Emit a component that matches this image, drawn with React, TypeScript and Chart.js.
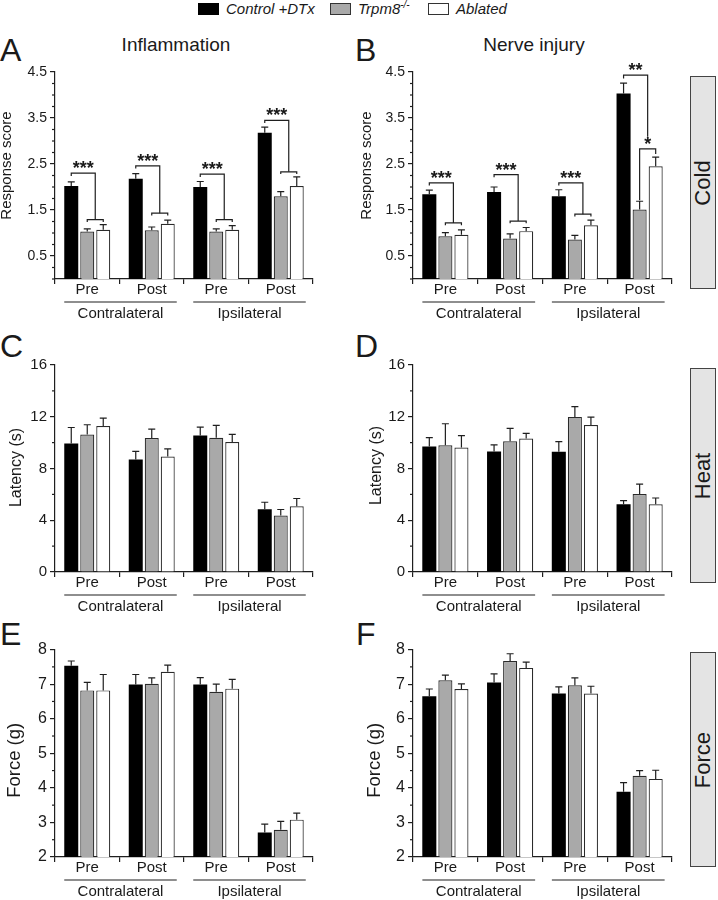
import React, { useEffect, useRef } from "react";
import { Chart, registerables } from "chart.js";

Chart.register(...registerables);

const FONT = '"Liberation Sans", Arial, Helvetica, sans-serif';
const INK = "#1a1a1a";
const AXIS = "#1f1f1f";
const FILLS = ["#000000", "#a9a9a9", "#ffffff"];
const BORDERS = ["#000000", "#2a2a2a", "#2a2a2a"];

// ---------- shared labels ----------
const categories = ["Pre", "Post", "Pre", "Post"];
const sides = ["Contralateral", "Ipsilateral"];
const sideSpans = [
  [0, 1],
  [2, 3],
];
const legendNames = ["Control +DTx", "Trpm8", "Ablated"];
const legendSup = ["", "-/-", ""];
const columnTitles = ["Inflammation", "Nerve injury"];
const panelLetters = ["A", "B", "C", "D", "E", "F"];
const rowLabels = ["Cold", "Heat", "Force"];

// ---------- tick values ----------
const coldTicks = [0.5, 1.5, 2.5, 3.5, 4.5];
const heatTicks = [0, 4, 8, 12, 16];
const forceTicks = [2, 3, 4, 5, 6, 7, 8];

// ---------- A: Inflammation, cold ----------
const aControl = [2.02, 2.18, 2.0, 3.18];
const aControlSem = [0.09, 0.11, 0.12, 0.12];
const aTrpm8 = [1.03, 1.06, 1.03, 1.8];
const aTrpm8Sem = [0.06, 0.07, 0.06, 0.1];
const aAblated = [1.07, 1.2, 1.07, 2.02];
const aAblatedSem = [0.11, 0.08, 0.09, 0.2];

// ---------- B: Nerve injury, cold ----------
const bControl = [1.84, 1.89, 1.8, 4.03];
const bControlSem = [0.09, 0.11, 0.14, 0.23];
const bTrpm8 = [0.93, 0.88, 0.86, 1.51];
const bTrpm8Sem = [0.08, 0.1, 0.09, 0.18];
const bAblated = [0.96, 1.04, 1.17, 2.45];
const bAblatedSem = [0.11, 0.08, 0.11, 0.2];

// ---------- C: Inflammation, heat ----------
const cControl = [9.94, 8.7, 10.55, 4.85];
const cControlSem = [1.23, 0.62, 0.65, 0.54];
const cTrpm8 = [10.63, 10.35, 10.37, 4.36];
const cTrpm8Sem = [0.75, 0.7, 0.96, 0.47];
const cAblated = [11.28, 8.93, 10.04, 5.08];
const cAblatedSem = [0.62, 0.59, 0.59, 0.6];

// ---------- D: Nerve injury, heat ----------
const dControl = [9.7, 9.31, 9.29, 5.23];
const dControlSem = [0.69, 0.51, 0.79, 0.28];
const dTrpm8 = [9.8, 10.1, 11.99, 6.02];
const dTrpm8Sem = [1.66, 1.0, 0.79, 0.77];
const dAblated = [9.62, 10.31, 11.36, 5.23];
const dAblatedSem = [0.92, 0.41, 0.61, 0.49];

// ---------- E: Inflammation, force ----------
const eControl = [7.53, 6.99, 6.99, 2.71];
const eControlSem = [0.14, 0.29, 0.2, 0.24];
const eTrpm8 = [6.82, 7.01, 6.78, 2.79];
const eTrpm8Sem = [0.23, 0.17, 0.22, 0.24];
const eAblated = [6.82, 7.36, 6.87, 3.08];
const eAblatedSem = [0.46, 0.19, 0.27, 0.19];

// ---------- F: Nerve injury, force ----------
const fControl = [6.65, 7.05, 6.73, 3.89];
const fControlSem = [0.21, 0.25, 0.19, 0.26];
const fTrpm8 = [7.11, 7.67, 6.97, 4.35];
const fTrpm8Sem = [0.15, 0.21, 0.21, 0.15];
const fAblated = [6.86, 7.47, 6.73, 4.26];
const fAblatedSem = [0.15, 0.17, 0.21, 0.25];

// significance brackets: [category, fromBar, toBar, level, leftEnd, rightEnd, label]
type Bracket = [number, number, number, number, number, number, string];
const aBrackets: Bracket[] = [
  [0, 0, 1.5, 2.3, 2.24, 1.29, "***"],
  [0, 1, 2, 1.29, 1.24, 1.24, ""],
  [1, 0, 1.5, 2.46, 2.4, 1.43, "***"],
  [1, 1, 2, 1.43, 1.38, 1.38, ""],
  [2, 0, 1.5, 2.28, 2.22, 1.29, "***"],
  [2, 1, 2, 1.29, 1.24, 1.24, ""],
  [3, 0, 1.5, 3.45, 3.39, 2.33, "***"],
  [3, 1, 2, 2.33, 2.28, 2.28, ""],
];
const bBrackets: Bracket[] = [
  [0, 0, 1.5, 2.09, 2.03, 1.22, "***"],
  [0, 1, 2, 1.22, 1.17, 1.17, ""],
  [1, 0, 1.5, 2.27, 2.21, 1.26, "***"],
  [1, 1, 2, 1.26, 1.21, 1.21, ""],
  [2, 0, 1.5, 2.09, 2.03, 1.41, "***"],
  [2, 1, 2, 1.41, 1.36, 1.36, ""],
  [3, 0, 1.5, 4.43, 4.36, 3.09, "**"],
  [3, 1, 2, 2.83, 1.71, 2.72, "*"],
];

interface PanelSpec {
  left: number;
  top: number;
  w: number;
  h: number;
  padRight: number;
  padBottom: number;
  yMin: number;
  yMax: number;
  ticks: number[];
  minor: number;
  decimals: number;
  tickFont: number;
  title: string;
  titleFont: number;
  titleX: number;
  titleDy: number;
  series: number[][];
  sems: number[][];
  brackets: Bracket[];
}

const panels: PanelSpec[] = [
  {
    left: 0, top: 60, w: 340, h: 265, padRight: 27, padBottom: 26,
    yMin: 0, yMax: 4.5, ticks: coldTicks, minor: 0.25, decimals: 1, tickFont: 14,
    title: "Response score", titleFont: 15, titleX: 7, titleDy: -10,
    series: [aControl, aTrpm8, aAblated], sems: [aControlSem, aTrpm8Sem, aAblatedSem], brackets: aBrackets,
  },
  {
    left: 358, top: 60, w: 330, h: 265, padRight: 16, padBottom: 26,
    yMin: 0, yMax: 4.5, ticks: coldTicks, minor: 0.25, decimals: 1, tickFont: 14,
    title: "Response score", titleFont: 15, titleX: 9, titleDy: -10,
    series: [bControl, bTrpm8, bAblated], sems: [bControlSem, bTrpm8Sem, bAblatedSem], brackets: bBrackets,
  },
  {
    left: 0, top: 353, w: 340, h: 265, padRight: 27, padBottom: 26,
    yMin: 0, yMax: 16, ticks: heatTicks, minor: 2, decimals: 0, tickFont: 15,
    title: "Latency (s)", titleFont: 16, titleX: 17, titleDy: -1,
    series: [cControl, cTrpm8, cAblated], sems: [cControlSem, cTrpm8Sem, cAblatedSem], brackets: [],
  },
  {
    left: 358, top: 353, w: 330, h: 265, padRight: 16, padBottom: 26,
    yMin: 0, yMax: 16, ticks: heatTicks, minor: 2, decimals: 0, tickFont: 15,
    title: "Latency (s)", titleFont: 16, titleX: 19, titleDy: -3,
    series: [dControl, dTrpm8, dAblated], sems: [dControlSem, dTrpm8Sem, dAblatedSem], brackets: [],
  },
  {
    left: 0, top: 637, w: 340, h: 263, padRight: 27, padBottom: 23,
    yMin: 2, yMax: 8, ticks: forceTicks, minor: 0.5, decimals: 0, tickFont: 16,
    title: "Force (g)", titleFont: 18.5, titleX: 15, titleDy: 7,
    series: [eControl, eTrpm8, eAblated], sems: [eControlSem, eTrpm8Sem, eAblatedSem], brackets: [],
  },
  {
    left: 358, top: 637, w: 330, h: 263, padRight: 16, padBottom: 23,
    yMin: 2, yMax: 8, ticks: forceTicks, minor: 0.5, decimals: 0, tickFont: 16,
    title: "Force (g)", titleFont: 18.5, titleX: 17, titleDy: 7,
    series: [fControl, fTrpm8, fAblated], sems: [fControlSem, fTrpm8Sem, fAblatedSem], brackets: [],
  },
];

function decorPlugin(p: PanelSpec) {
  return {
    id: "panelDecor",
    afterDatasetsDraw(chart: any) {
      const { ctx, chartArea } = chart;
      const xs = chart.scales.x;
      const ys = chart.scales.y;
      ctx.save();
      ctx.strokeStyle = AXIS;
      ctx.fillStyle = INK;
      ctx.lineWidth = 1.2;

      // error bars
      p.series.forEach((vals, d) => {
        const meta = chart.getDatasetMeta(d);
        vals.forEach((v, i) => {
          const bar = meta.data[i];
          const cx = bar.x;
          const yTop = ys.getPixelForValue(v);
          const yErr = ys.getPixelForValue(v + p.sems[d][i]);
          ctx.beginPath();
          ctx.moveTo(cx, yTop);
          ctx.lineTo(cx, yErr);
          ctx.moveTo(cx - 3.5, yErr);
          ctx.lineTo(cx + 3.5, yErr);
          ctx.stroke();
        });
      });

      // brackets
      const barX = (cat: number, pos: number) => {
        const lo = Math.floor(pos);
        const hi = Math.ceil(pos);
        const xl = chart.getDatasetMeta(lo).data[cat].x;
        const xh = chart.getDatasetMeta(hi).data[cat].x;
        return xl + (xh - xl) * (pos - lo);
      };
      p.brackets.forEach(([cat, from, to, level, lEnd, rEnd, label]) => {
        const x1 = barX(cat, from);
        const x2 = barX(cat, to);
        const yl = ys.getPixelForValue(level);
        ctx.beginPath();
        ctx.moveTo(x1, ys.getPixelForValue(lEnd));
        ctx.lineTo(x1, yl);
        ctx.lineTo(x2, yl);
        ctx.lineTo(x2, ys.getPixelForValue(rEnd));
        ctx.stroke();
        if (label) {
          ctx.font = `bold 18px ${FONT}`;
          ctx.textAlign = "center";
          ctx.textBaseline = "alphabetic";
          ctx.fillText(label, (x1 + x2) / 2, yl + 1);
        }
      });

      // minor y ticks
      const nSteps = Math.round((p.yMax - p.yMin) / p.minor);
      for (let k = 0; k <= nSteps; k++) {
        const v = p.yMin + k * p.minor;
        if (p.ticks.some((t) => Math.abs(t - v) < 1e-6)) continue;
        const py = ys.getPixelForValue(v);
        ctx.beginPath();
        ctx.moveTo(chartArea.left - 3, py);
        ctx.lineTo(chartArea.left, py);
        ctx.stroke();
      }

      // group labels under the x axis
      sideSpans.forEach(([a, b], k) => {
        const xa = xs.getPixelForValue(a) - 23;
        const xb = xs.getPixelForValue(b) + 25;
        const ly = chartArea.bottom + 23;
        ctx.beginPath();
        ctx.moveTo(xa, ly);
        ctx.lineTo(xb, ly);
        ctx.stroke();
        ctx.font = `15px ${FONT}`;
        ctx.textAlign = "center";
        ctx.textBaseline = "middle";
        ctx.fillText(sides[k], (xa + xb) / 2, chartArea.bottom + 35);
      });

      // y axis title
      ctx.translate(p.titleX, (chartArea.top + chartArea.bottom) / 2 + p.titleDy);
      ctx.rotate(-Math.PI / 2);
      ctx.font = `${p.titleFont}px ${FONT}`;
      ctx.textAlign = "center";
      ctx.textBaseline = "middle";
      ctx.fillText(p.title, 0, 0);
      ctx.restore();
    },
  };
}

function buildConfig(p: PanelSpec): any {
  return {
    type: "bar",
    data: {
      labels: categories,
      datasets: p.series.map((vals, d) => ({
        label: legendNames[d],
        data: vals,
        backgroundColor: FILLS[d],
        borderColor: BORDERS[d],
        borderWidth: d === 0 ? 0 : 1.2,
        borderSkipped: "bottom",
        categoryPercentage: 0.744,
        barPercentage: 0.875,
      })),
    },
    options: {
      responsive: false,
      animation: false,
      devicePixelRatio: 1,
      events: [],
      layout: { padding: { left: 0, right: p.padRight, top: 12, bottom: p.padBottom } },
      plugins: { legend: { display: false }, tooltip: { enabled: false }, title: { display: false } },
      scales: {
        x: {
          type: "category",
          grid: {
            display: true,
            drawOnChartArea: false,
            drawTicks: true,
            tickLength: 5,
            offset: true,
            color: AXIS,
            lineWidth: 1.2,
          },
          border: { display: true, color: AXIS, width: 1.2 },
          ticks: {
            color: INK,
            font: { family: FONT, size: 15 },
            padding: -3,
            autoSkip: false,
            maxRotation: 0,
          },
          afterFit: (s: any) => {
            s.height = 20;
          },
        },
        y: {
          type: "linear",
          min: p.yMin,
          max: p.yMax,
          grid: {
            display: true,
            drawOnChartArea: false,
            drawTicks: true,
            tickLength: 5,
            color: AXIS,
            lineWidth: 1.2,
          },
          border: { display: true, color: AXIS, width: 1.2 },
          ticks: {
            color: INK,
            font: { family: FONT, size: p.tickFont },
            padding: 3,
            callback: (v: any) => Number(v).toFixed(p.decimals),
          },
          afterBuildTicks: (s: any) => {
            s.ticks = p.ticks.map((v) => ({ value: v }));
          },
          afterFit: (s: any) => {
            s.width = 55;
          },
        },
      },
    },
    plugins: [decorPlugin(p)],
  };
}

function Panel({ spec }: { spec: PanelSpec }) {
  const ref = useRef<HTMLCanvasElement>(null);
  useEffect(() => {
    if (!ref.current) return;
    const chart = new Chart(ref.current, buildConfig(spec));
    return () => chart.destroy();
  }, [spec]);
  return (
    <canvas
      ref={ref}
      width={spec.w}
      height={spec.h}
      style={{ position: "absolute", left: spec.left, top: spec.top, width: spec.w, height: spec.h }}
    />
  );
}

function Txt({
  x, cy, size, anchor = "start", italic = false, children,
}: {
  x: number; cy: number; size: number; anchor?: "start" | "middle"; italic?: boolean; children: React.ReactNode;
}) {
  return (
    <div
      style={{
        position: "absolute",
        left: x,
        top: cy - size / 2,
        fontSize: size,
        lineHeight: `${size}px`,
        fontFamily: FONT,
        color: INK,
        whiteSpace: "nowrap",
        fontStyle: italic ? "italic" : "normal",
        transform: anchor === "middle" ? "translateX(-50%)" : undefined,
      }}
    >
      {children}
    </div>
  );
}

const legendBoxX = [198, 330, 428];
const legendTextX = [226, 358, 456];
const letterPos = [
  [0, 49.5], [355, 49.5], [0, 346], [355, 346], [0, 634], [356, 634],
];
const titleCenters = [176, 534];
const rowBoxes = [
  [76, 213], [368, 215], [652, 215],
];

export default function App() {
  return (
    <div style={{ position: "relative", width: 718, height: 900, overflow: "hidden", background: "#fff" }}>
      <style>{"body{margin:0;background:#fff;}"}</style>
      {/* legend */}
      {legendNames.map((name, i) => (
        <React.Fragment key={name}>
          <div
            style={{
              position: "absolute",
              left: legendBoxX[i],
              top: 3,
              width: 21,
              height: 12,
              boxSizing: "border-box",
              background: FILLS[i],
              border: `1px solid ${i === 0 ? "#000" : "#333"}`,
            }}
          />
          <Txt x={legendTextX[i]} cy={8} size={15} italic>
            {name}
            {legendSup[i] ? (
              <span style={{ fontSize: 10, position: "relative", top: -6 }}>{legendSup[i]}</span>
            ) : null}
          </Txt>
        </React.Fragment>
      ))}
      {/* column titles */}
      {columnTitles.map((t, i) => (
        <Txt key={t} x={titleCenters[i]} cy={44} size={19} anchor="middle">
          {t}
        </Txt>
      ))}
      {/* panel letters */}
      {panelLetters.map((l, i) => (
        <Txt key={l} x={letterPos[i][0]} cy={letterPos[i][1]} size={32}>
          {l}
        </Txt>
      ))}
      {/* charts */}
      {panels.map((p, i) => (
        <Panel key={i} spec={p} />
      ))}
      {/* row labels */}
      {rowLabels.map((r, i) => (
        <div
          key={r}
          style={{
            position: "absolute",
            left: 690,
            top: rowBoxes[i][0],
            width: 26,
            height: rowBoxes[i][1],
            boxSizing: "border-box",
            background: "#e4e4e4",
            border: "1px solid #444",
          }}
        >
          <div
            style={{
              position: "absolute",
              left: "50%",
              top: "50%",
              transform: "translate(-50%, -50%) rotate(-90deg)",
              fontFamily: FONT,
              fontSize: 22,
              lineHeight: "22px",
              color: INK,
              whiteSpace: "nowrap",
            }}
          >
            {r}
          </div>
        </div>
      ))}
    </div>
  );
}
